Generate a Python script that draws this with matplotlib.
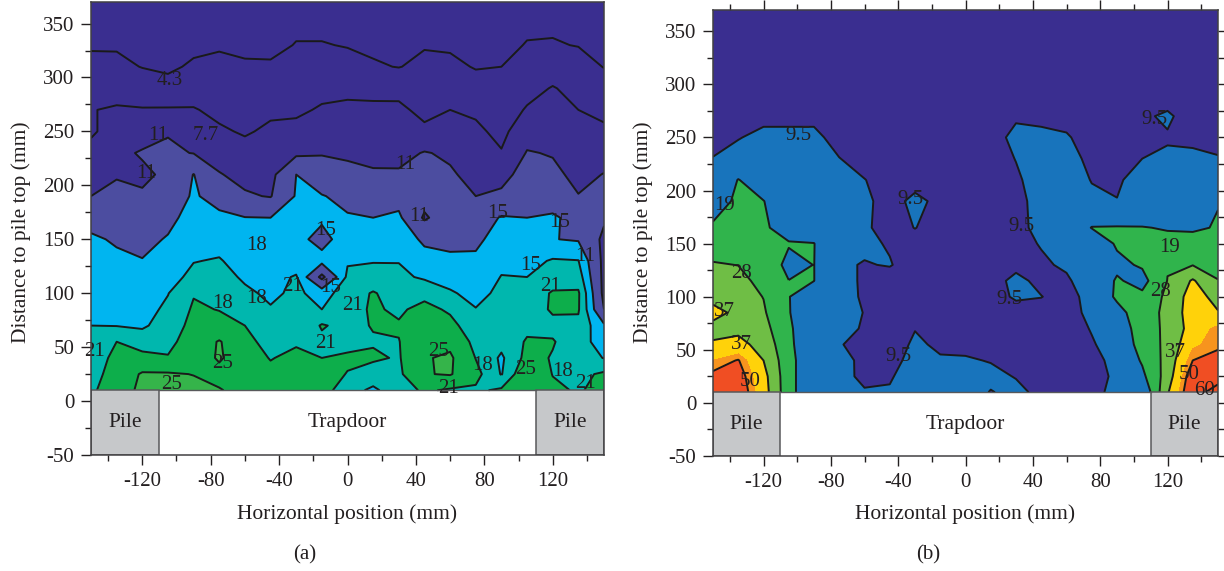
import numpy as np
import matplotlib
matplotlib.use("Agg")
import matplotlib.pyplot as plt

plt.rcParams['font.family'] = ['Liberation Serif', 'DejaVu Serif']

x_mm = [-150,-135,-120,-105,-90,-75,-60,-45,-30,-15,0,15,30,45,60,75,90,105,120,135,150]
y_a = [10,25,40,55,70,85,100,115,130,150,170,190,210,230,250,270,290,310,330,370]
y_b = [10,25,40,55,70,85,100,115,130,150,165,190,210,230,250,270,290,310,330,370]

z_a = [
 [20.4,23,25.9,26,26,25.2,24,23,23.5,22.5,19,17.5,19.5,21.5,20.5,20.5,21.5,23,21.6,20.7,22],
 [19.7,22.5,25.4,25.4,24.9,24,23.5,22,23,22,20.9,19.5,20.3,24.8,25.3,22,17.8,24,20.9,20.2,21.5],
 [19,22,22,21.2,23,25.4,23,20.8,22,21,21.4,21.5,20.7,24.7,25.6,20.9,17.5,22,20.8,19.4,17.9],
 [18.5,21,19.5,20.2,22.5,25.3,22,19.8,20.5,20.3,20.2,20.7,20.9,23.5,24,20,19,21.3,21.2,19.4,16.5],
 [18,17.9,17.6,19.2,22,22,21,18.9,18.1,21.3,20,21.2,21.3,22.5,22,19,18.4,20.3,20.2,20.3,15.5],
 [17.5,17.3,16.9,18.6,21.4,20.9,19.3,18.2,18.2,18,19.8,21.4,20.5,22,20.5,18.1,19,19.3,21.4,21.3,11],
 [17,16.7,16.2,17.9,20.8,20,18.5,17.5,18.5,17,19.2,21.3,19.3,20,18.3,17.2,18.6,18.6,21.4,21.4,10],
 [16.3,16,15.7,17,18.7,19,17.6,16.9,18.3,10,18.6,18.7,18.6,17.6,17,16.2,18.1,18,19,19.5,10],
 [15.9,15.5,15.1,16,17.9,18.2,16.9,16.3,16.3,16,17.7,17.9,17.9,16,15.5,15.5,17.3,17,18.3,18.1,10],
 [15.4,14.7,14.3,15.2,16.5,17,16,15.7,15.9,14,16.5,16.5,16.5,14.5,14.3,14.4,16.2,15.7,15.1,14.7,10.2],
 [14,13.3,13,14.3,16,15.7,15.1,15,15.6,15.5,15.3,15,15.6,10.5,13.2,12.8,15.3,15,15.5,13.8,11.5],
 [11,12,11.5,13,15.4,13.7,11.4,10.8,15.3,15.2,14,13,13.7,12.4,12,11,11.7,13.9,13,11.1,12],
 [9.5,10.7,10.2,11.8,15.1,11.2,10,10,15,12.5,11.7,11.3,11.4,12,11.4,10,9.8,12.5,11.7,10.2,11.1],
 [8.6,10,11.4,11.5,10.9,9.6,8.7,9.3,10.3,10.8,10.6,10.3,10,11.2,10.5,9.2,7.9,11.2,10.8,9.3,9.8],
 [7.3,8.9,9,10.8,9.3,8.1,7.4,8.2,8.5,9.5,9.5,9.4,9.2,8.3,9.2,8.3,6.9,9.7,10.3,8.5,8.2],
 [7.6,8,7.9,8,7.9,7,6.7,7.2,7.2,8,8.4,8.4,8.3,6.9,7.7,7.2,6,8,9.7,7.7,7],
 [6.3,6.6,6,5.3,6.3,6,5.8,5.9,6.3,6.9,6.9,6.7,6.8,6,6.2,5.6,5.2,6.6,7.9,6.7,5.7],
 [5.1,5,4.2,3.8,4.7,5,4.6,4.6,5.3,5.4,5,4.6,4.2,5,5,4.1,4.3,5.2,6,5.5,4.2],
 [4,4,3.4,3.2,3.7,4,3.8,3.7,4.4,4.4,4.2,3.8,3.7,4.1,3.9,3.7,3.8,4.4,4.5,4.2,3.6],
 [3,3,3,2.8,3,3,3,3,3.3,3.3,3,3,3,3.5,3.3,3,3,3.5,3.3,3,3],
]

z_b = [
 [55,56,41,22,11.5,10.5,9.9,10,12,11,10.5,9.4,10,9,8,8.5,10.5,10.5,36,58,62],
 [52,54,40,22,11.5,11,8.5,9,12,10.5,10.2,10,9.4,8,8,8.5,10,17,32,56,58],
 [46,50.5,37,22,11.5,10.5,8.8,8,11,9.8,9.7,9.4,8.5,8,8,8.5,10.5,20,31,50,52],
 [38.5,39.5,34,21,11.5,9.6,9,8,10,9,9,8.5,8,8,8,9.2,11,23,30,44.5,49],
 [33,35,31,20.5,11.5,10.5,9.2,8,9.4,8,8,8,8,8,8,9.7,12,24.5,29.5,41,48],
 [41,34,29,19.5,11.5,10.8,9.4,8,8.5,8,8,8,8,8,8,10.5,16,24,30,42,37.5],
 [33,31.5,27.8,19.3,13,11,9,8,8,8,8,8,10,9.6,8,11,20.5,21,30,41,34],
 [30,30,26,19.1,19.1,11,8.9,8,8,8,8,8,10.5,8.5,9,11.5,20,16,28.2,38,28.2],
 [28.5,27.9,24,17,19.1,10,9.3,9.7,8,8,8,8,8.5,9,10,12,17,20,27.5,27.7,26],
 [25,24,21.5,19.5,19.2,10.5,10.2,9.2,8,8,8,8,8.5,9.7,11,13,20,20,21,24.5,22],
 [20.5,21,20,16,14,11,10.1,8,9.6,8,8,8,8.5,10.5,12,19.3,19.5,19.3,18.5,17,20],
 [14,21,19.2,13.5,12.5,11,10.3,8,10.5,8.5,8,8,8.7,10.5,12,10.5,9.6,12,12,13,18.5],
 [11,19.3,14,12,12,10.5,9.6,8,8,8,8,8,9,11,12,9.3,9,11,11,11.5,13],
 [9.6,11,11.5,11,11,9.6,8,8,8,8,8,8,9.6,11,11,8.5,8.5,9.5,10,10,9.7],
 [8.5,9.3,10.5,10.5,10.5,8,8,8,8,8,8,8,10.5,10.5,9.8,8.2,8,8.5,9.2,9,8.5],
 [8,8,8.5,8.5,8.5,8,8,8,8,8,8,8,9,8.5,8.5,8,8,9,10,8,8],
 [8,8,8,8,8,8,8,8,8,8,8,8,8,8,8,8,8,8,8,8,8],
 [8,8,8,8,8,8,8,8,8,8,8,8,8,8,8,8,8,8,8,8,8],
 [8,8,8,8,8,8,8,8,8,8,8,8,8,8,8,8,8,8,8,8,8],
 [8,8,8,8,8,8,8,8,8,8,8,8,8,8,8,8,8,8,8,8,8],
]

levels_a = [0, 4.3, 7.7, 11, 15, 18, 21, 25, 30]
colors_a = ['#3A2E90', '#3A2E90', '#3B2F90', '#4C4DA0', '#00B5F0', '#00B7AE', '#0DAE4B', '#35B44A']
lines_a = [4.3, 7.7, 11, 15, 18, 21, 25]

levels_b = [0, 9.5, 19, 28, 37, 46, 50, 70]
colors_b = ['#3A2E90', '#1874BC', '#30B44C', '#6FBE45', '#FFD20A', '#F7941E', '#F04E23']
lines_b = [9.5, 19, 28, 37, 50, 60]

labels_a = ['4.3','7.7','11','11','11','11','15','15','11','15','15','18','21','15','21','21','18','18','21','25','21','25','25','21','18','25','18','21']
lab_x_a = [-104,-83,-111,-118,34,42,88,124,139,107,-13,-53,-32,-10,119,3,-73,-53,-13,-73,-148,-103,53,59,79,104,126,139]
lab_y_a = [297,246,246,211,219,171,174,166,134,126,158,144,106,105,106,89,90,95,53,35,46,15,46,12,33,29,27,16]

labels_b = ['9.5','9.5','9.5','9.5','19','19','28','28','37','9.5','37','9.5','50','37','50','60']
lab_x_b = [-99,112,-33,33,-143,121,-133,116,-143,26,-133,-40,-128,125,133,142]
lab_y_b = [252,267,192,166,186,146,122,105,86,97,55,44,20,47,27,12]

x_major = [-120,-80,-40,0,40,80,120]
x_minor = [-140,-100,-60,-20,20,60,100,140]
y_major = [-50,0,50,100,150,200,250,300,350]
y_minor = [-25,25,75,125,175,225,275,325]

INK = '#231F20'
W, H = 1224, 571
fig = plt.figure(figsize=(W/100, H/100), dpi=100)

def panel(px, ys, z, levels, colors, lines, labs, lx, ly, caption, cap_x, ylab_x, mirror):
    left, right, top, bottom = px
    ax = fig.add_axes([left/W, 1-bottom/H, (right-left)/W, (bottom-top)/H])
    ax.set_xlim(-150, 150)
    ax.set_ylim(-50, 370)
    X, Y = np.meshgrid(x_mm, ys)
    Z = np.array(z)
    ax.contourf(X, Y, Z, levels=levels, colors=colors)
    ax.contour(X, Y, Z, levels=lines, colors='#1a1a1a', linewidths=1.4)
    for a, b in [(-150, -110), (110, 150)]:
        ax.add_patch(plt.Rectangle((a, -50), b-a, 60, fc='#C6C8CA', ec='#58595B', lw=1.1, zorder=3))
    ax.plot([-110, 110], [10, 10], color='#58595B', lw=1.0, zorder=3)
    for t, a, b in zip(labs, lx, ly):
        ax.text(a, b, t, ha='center', va='center', fontsize=15, color=INK, zorder=5)
    ax.text(-130, -20, 'Pile', ha='center', va='center', fontsize=15.5, color=INK, zorder=5)
    ax.text(0, -20, 'Trapdoor', ha='center', va='center', fontsize=15.5, color=INK, zorder=5)
    ax.text(130, -20, 'Pile', ha='center', va='center', fontsize=15.5, color=INK, zorder=5)
    ax.set_xticks(x_major)
    ax.set_xticks(x_minor, minor=True)
    ax.set_yticks(y_major)
    ax.set_yticks(y_minor, minor=True)
    ax.set_xticklabels([str(v) for v in x_major])
    ax.set_yticklabels([str(v) for v in y_major])
    ax.tick_params(which='major', direction='out', length=7, width=1, labelsize=15, colors=INK, pad=5,
                   top=mirror, right=mirror)
    ax.tick_params(which='minor', direction='out', length=4, width=1, colors=INK, top=mirror, right=mirror)
    for s in ax.spines.values():
        s.set_color('#414042')
        s.set_linewidth(1.1)
        s.set_zorder(6)
    fig.text((left+right)/2/W, 1-514/H, 'Horizontal position (mm)', ha='center', va='center', fontsize=15.5, color=INK)
    fig.text(ylab_x/W, 1-232/H, 'Distance to pile top (mm)', rotation=90, ha='center', va='center', fontsize=15.5, color=INK)
    fig.text(cap_x/W, 1-555/H, caption, ha='center', va='center', fontsize=15, color=INK)
    return ax

panel((91, 604, 2, 455), y_a, z_a, levels_a, colors_a, lines_a, labels_a, lab_x_a, lab_y_a, '(a)', 305, 21, False)
panel((713, 1218, 10, 456), y_b, z_b, levels_b, colors_b, lines_b, labels_b, lab_x_b, lab_y_b, '(b)', 928, 643, True)

fig.savefig('out.png', dpi=100)
